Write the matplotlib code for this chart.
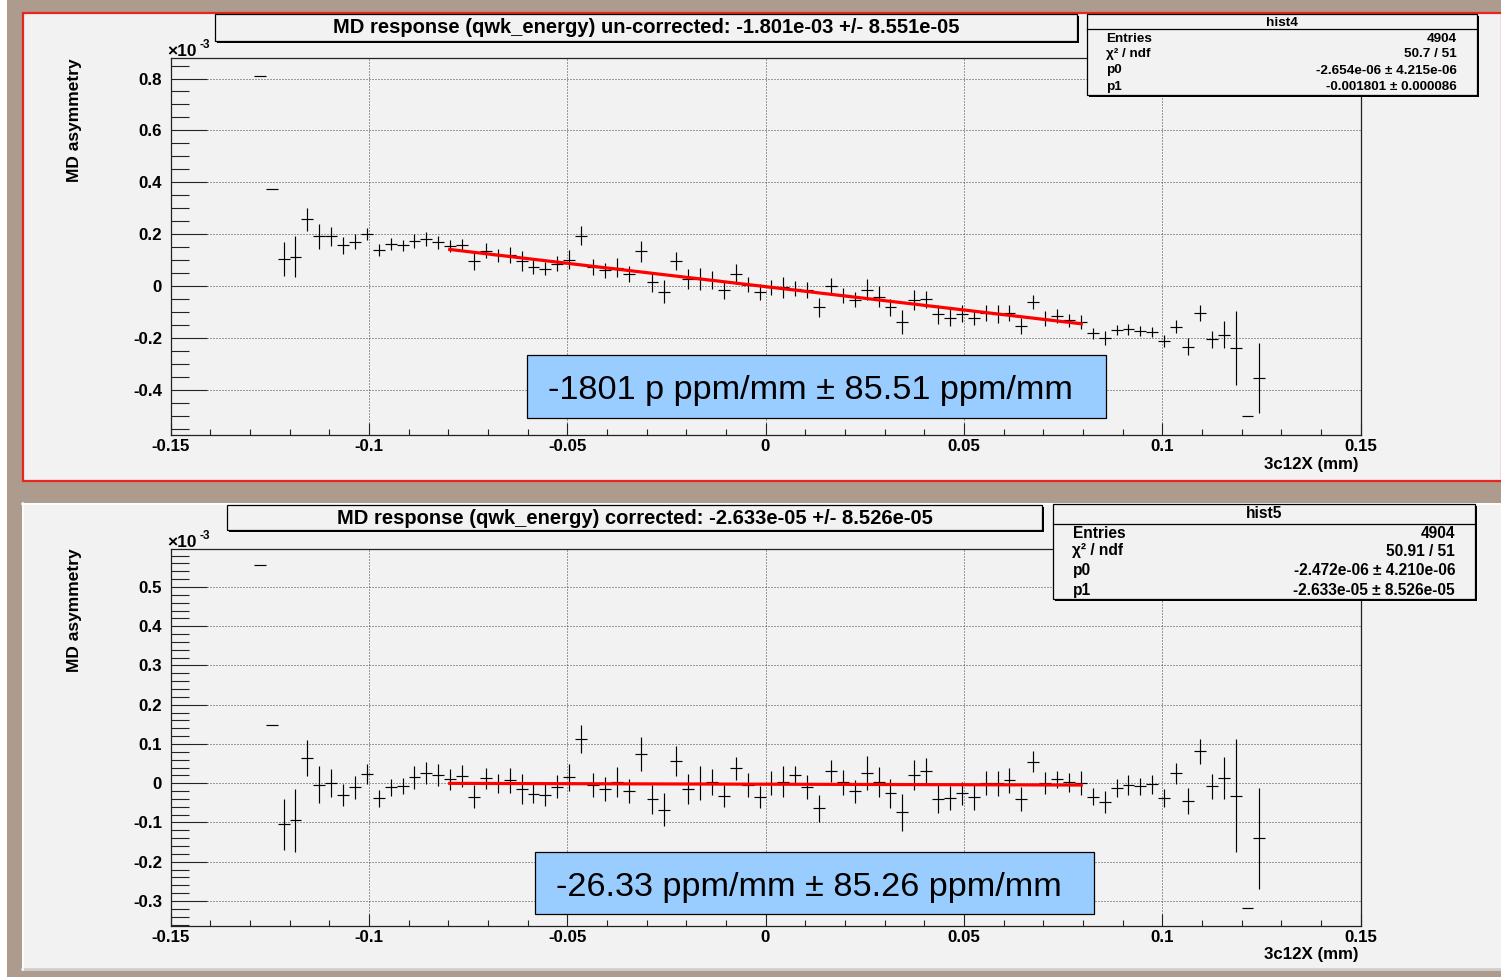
import numpy as np
import matplotlib
matplotlib.use("Agg")
import matplotlib.pyplot as plt
from matplotlib.patches import Rectangle
from matplotlib.ticker import FixedLocator, MultipleLocator, NullFormatter

plt.rcParams['font.family'] = ['Liberation Sans', 'DejaVu Sans']

W, H, DPI = 1501, 977, 100

# ---------------------------------------------------------------- data
# histogram binning of 3c12X (mm)
N_BINS = 100
X_LO, X_HI = -0.15, 0.15
FIRST_FILLED_BIN = 7

# MD asymmetry per bin, in units of 1e-3 (bins 7 .. 91)
uncorr_asym = [
    0.810, 0.372, 0.104, 0.113, 0.257, 0.191, 0.191, 0.157, 0.171, 0.200,
    0.139, 0.162, 0.157, 0.175, 0.181, 0.168, 0.154, 0.159, 0.098, 0.135,
    0.118, 0.118, 0.096, 0.073, 0.067, 0.086, 0.101, 0.194, 0.073, 0.060,
    0.071, 0.047, 0.133, 0.015, -0.023, 0.095, 0.026, 0.026, 0.022, -0.017,
    0.047, 0.005, -0.023, -0.006, -0.006, -0.010, -0.017, -0.083, -0.001, -0.036,
    -0.053, -0.015, -0.042, -0.082, -0.139, -0.054, -0.051, -0.110, -0.122, -0.107,
    -0.122, -0.105, -0.107, -0.104, -0.155, -0.063, -0.126, -0.117, -0.133, -0.141,
    -0.183, -0.202, -0.170, -0.168, -0.174, -0.177, -0.211, -0.158, -0.234, -0.104,
    -0.205, -0.189, -0.240, -0.501, -0.356,
]
uncorr_err = [
    0.0, 0.0, 0.065, 0.080, 0.045, 0.048, 0.036, 0.032, 0.029, 0.024,
    0.024, 0.023, 0.022, 0.027, 0.027, 0.025, 0.025, 0.022, 0.035, 0.029,
    0.024, 0.031, 0.038, 0.027, 0.024, 0.030, 0.037, 0.038, 0.031, 0.030,
    0.038, 0.031, 0.042, 0.037, 0.044, 0.035, 0.038, 0.042, 0.034, 0.035,
    0.038, 0.029, 0.032, 0.030, 0.040, 0.029, 0.031, 0.035, 0.032, 0.029,
    0.029, 0.040, 0.040, 0.033, 0.045, 0.039, 0.033, 0.035, 0.032, 0.032,
    0.030, 0.030, 0.035, 0.032, 0.030, 0.027, 0.030, 0.027, 0.024, 0.027,
    0.020, 0.027, 0.021, 0.021, 0.019, 0.020, 0.023, 0.025, 0.033, 0.032,
    0.033, 0.052, 0.144, 0.0, 0.136,
]
corr_asym = [
    0.556, 0.149, -0.105, -0.094, 0.064, -0.004, 0.000, -0.030, -0.010, 0.024,
    -0.038, -0.010, -0.007, 0.015, 0.027, 0.021, 0.010, 0.019, -0.034, 0.013,
    0.000, 0.007, -0.015, -0.027, -0.030, -0.009, 0.015, 0.113, -0.005, -0.015,
    0.003, -0.020, 0.074, -0.041, -0.068, 0.056, -0.015, 0.000, 0.002, -0.032,
    0.038, -0.004, -0.036, 0.000, 0.004, 0.020, -0.009, -0.064, 0.030, 0.002,
    -0.021, 0.026, 0.004, -0.026, -0.074, 0.021, 0.030, -0.040, -0.038, -0.026,
    -0.035, 0.000, 0.000, 0.007, -0.041, 0.055, 0.000, 0.010, 0.002, 0.000,
    -0.034, -0.047, -0.011, -0.004, -0.008, -0.003, -0.038, 0.025, -0.045, 0.081,
    -0.008, 0.013, -0.032, -0.318, -0.140,
]
corr_err = [
    0.0, 0.0, 0.066, 0.080, 0.045, 0.047, 0.036, 0.029, 0.029, 0.025,
    0.022, 0.022, 0.020, 0.030, 0.028, 0.029, 0.027, 0.028, 0.030, 0.027,
    0.024, 0.031, 0.038, 0.024, 0.027, 0.029, 0.035, 0.036, 0.031, 0.031,
    0.038, 0.030, 0.044, 0.037, 0.042, 0.038, 0.039, 0.043, 0.033, 0.028,
    0.030, 0.030, 0.028, 0.031, 0.039, 0.024, 0.030, 0.035, 0.028, 0.032,
    0.030, 0.044, 0.038, 0.038, 0.047, 0.039, 0.033, 0.036, 0.031, 0.030,
    0.032, 0.030, 0.032, 0.031, 0.031, 0.027, 0.028, 0.022, 0.025, 0.031,
    0.021, 0.028, 0.023, 0.025, 0.022, 0.024, 0.023, 0.026, 0.033, 0.031,
    0.032, 0.054, 0.144, 0.0, 0.129,
]

# linear fits  p0 + p1 * x
uncorr_p0, uncorr_p1 = -2.654e-06, -0.001801
corr_p0, corr_p1 = -2.472e-06, -2.633e-05
FIT_RANGE = [-0.08, 0.08]

x_tick_vals = [-0.15, -0.1, -0.05, 0.0, 0.05, 0.1, 0.15]
x_tick_labels = ['-0.15', '-0.1', '-0.05', '0', '0.05', '0.1', '0.15']
uncorr_ytick_vals = [-0.4, -0.2, 0.0, 0.2, 0.4, 0.6, 0.8]
uncorr_ytick_labels = ['-0.4', '-0.2', '0', '0.2', '0.4', '0.6', '0.8']
corr_ytick_vals = [-0.3, -0.2, -0.1, 0.0, 0.1, 0.2, 0.3, 0.4, 0.5]
corr_ytick_labels = ['-0.3', '-0.2', '-0.1', '0', '0.1', '0.2', '0.3', '0.4', '0.5']

uncorr_title = 'MD response (qwk_energy) un-corrected: -1.801e-03 +/- 8.551e-05'
corr_title = 'MD response (qwk_energy) corrected: -2.633e-05 +/- 8.526e-05'
uncorr_note = '-1801 p ppm/mm \u00b1 85.51 ppm/mm'
corr_note = '-26.33 ppm/mm \u00b1 85.26 ppm/mm'

stat_labels = ['Entries', '\u03c7\u00b2 / ndf', 'p0', 'p1']
uncorr_stat_name = 'hist4'
uncorr_stat_vals = ['4904', '50.7 / 51', '-2.654e-06 \u00b1 4.215e-06',
                    '-0.001801 \u00b1 0.000086']
corr_stat_name = 'hist5'
corr_stat_vals = ['4904', '50.91 / 51', '-2.472e-06 \u00b1 4.210e-06',
                  '-2.633e-05 \u00b1 8.526e-05']

y_title = 'MD asymmetry'
x_title = '3c12X (mm)'

# ---------------------------------------------------------------- style
CANVAS = '#ad9b8d'
PAD = '#f2f2f2'
NOTE_BLUE = '#99ccff'
FONT_BOLD = dict(fontweight='bold')

fig = plt.figure(figsize=(W / DPI, H / DPI), dpi=DPI)
fig.patch.set_facecolor(CANVAS)

# background layer in pixel coordinates
bg = fig.add_axes([0, 0, 1, 1], zorder=0)
bg.set_xlim(0, W)
bg.set_ylim(H, 0)
bg.axis('off')
# foreground layer in pixel coordinates
fg = fig.add_axes([0, 0, 1, 1], zorder=5)
fg.set_xlim(0, W)
fg.set_ylim(H, 0)
fg.axis('off')
fg.patch.set_alpha(0)

bg.add_patch(Rectangle((0, 0), 7, H, facecolor='white', edgecolor='none'))
# upper pad (highlighted in red) and lower pad
bg.add_patch(Rectangle((22.5, 12.5), W - 22, 468, facecolor=PAD,
                       edgecolor='#e8261e', lw=1.6))
bg.add_patch(Rectangle((22, 503), W - 22, 467, facecolor=PAD,
                       edgecolor='none'))
bg.plot([22, W], [503.5, 503.5], color='white', lw=1.2)
bg.plot([22, W], [969, 969], color='#d0d0d0', lw=2.0)
bg.plot([22.5, 22.5], [503, 970], color='white', lw=1.2)


def axes_rect(left, top, right, bottom):
    return [left / W, 1 - bottom / H, (right - left) / W, (bottom - top) / H]


def draw_hist(rect, vals, errs, p0, p1, ylim, yticks, ylabels, yminor):
    ax = fig.add_axes(axes_rect(*rect), zorder=2)
    ax.patch.set_alpha(0)
    edges = np.linspace(X_LO, X_HI, N_BINS + 1)
    centres = 0.5 * (edges[:-1] + edges[1:])
    half = 0.5 * (X_HI - X_LO) / N_BINS
    xs = centres[FIRST_FILLED_BIN:FIRST_FILLED_BIN + len(vals)]
    ax.errorbar(xs, vals, yerr=errs, xerr=half, fmt='none', ecolor='black',
                elinewidth=0.85, capsize=0, zorder=3)
    xf = np.array(FIT_RANGE)
    ax.plot(xf, (p0 + p1 * xf) * 1e3, color='#ff0000', lw=2.3,
            solid_capstyle='butt', zorder=4)
    ax.set_xlim(X_LO, X_HI)
    ax.set_ylim(*ylim)
    ax.xaxis.set_major_locator(FixedLocator(x_tick_vals))
    ax.set_xticklabels(x_tick_labels, fontsize=12.2, **FONT_BOLD)
    ax.xaxis.set_minor_locator(MultipleLocator(0.01))
    ax.yaxis.set_major_locator(FixedLocator(yticks))
    ax.set_yticklabels(ylabels, fontsize=12.2, **FONT_BOLD)
    ax.yaxis.set_minor_locator(MultipleLocator(yminor))
    ax.xaxis.set_minor_formatter(NullFormatter())
    ax.yaxis.set_minor_formatter(NullFormatter())
    ax.tick_params(axis='x', which='major', direction='in', length=8.6,
                   width=0.8, pad=3, colors='#222222', labelcolor='black')
    ax.tick_params(axis='x', which='minor', direction='in', length=4.3,
                   width=0.8, colors='#222222')
    ax.tick_params(axis='y', which='major', direction='in', length=26,
                   width=0.8, pad=6, colors='#222222', labelcolor='black')
    ax.tick_params(axis='y', which='minor', direction='in', length=13,
                   width=0.8, colors='#222222')
    ax.grid(True, which='major', linestyle=(0, (1, 2)), color='#444444',
            lw=0.72, zorder=1)
    for s in ax.spines.values():
        s.set_color('#222222')
        s.set_linewidth(0.9)
    return ax


draw_hist((170.5, 58.3, 1360.5, 434.5), uncorr_asym, uncorr_err,
          uncorr_p0, uncorr_p1, (-0.573, 0.878),
          uncorr_ytick_vals, uncorr_ytick_labels, 0.05)
draw_hist((170.5, 549.3, 1360.5, 925.7), corr_asym, corr_err,
          corr_p0, corr_p1, (-0.363, 0.596),
          corr_ytick_vals, corr_ytick_labels, 0.02)


def shadow_box(x0, y0, x1, y1, face=PAD):
    fg.add_patch(Rectangle((x0 + 2, y0 + 2), x1 - x0, y1 - y0,
                           facecolor='black', edgecolor='none'))
    fg.add_patch(Rectangle((x0, y0), x1 - x0, y1 - y0, facecolor=face,
                           edgecolor='black', lw=0.9))


# titles
shadow_box(214.5, 14, 1077, 40.5)
fg.text(646, 27.5, uncorr_title, ha='center', va='center', fontsize=14.5,
        **FONT_BOLD)
shadow_box(227, 505, 1042, 530)
fg.text(635, 518, corr_title, ha='center', va='center', fontsize=14.5,
        **FONT_BOLD)


def stat_box(x0, y0, x1, y1, head_y, line_y, rows_y, name, vals, fs,
             lab_x, val_x):
    shadow_box(x0, y0, x1, y1)
    fg.plot([x0, x1], [line_y, line_y], color='black', lw=0.9)
    fg.text((x0 + x1) / 2, head_y, name, ha='center', va='center',
            fontsize=fs, **FONT_BOLD)
    for lab, val, yy in zip(stat_labels, vals, rows_y):
        fg.text(lab_x, yy, lab, ha='left', va='center', fontsize=fs,
                **FONT_BOLD)
        fg.text(val_x, yy, val, ha='right', va='center', fontsize=fs,
                **FONT_BOLD)


stat_box(1087, 14, 1477, 95, 22.5, 28.5, [39, 54, 70.5, 87],
         uncorr_stat_name, uncorr_stat_vals, 9.7, 1106, 1457)
stat_box(1053, 504, 1475, 599, 514, 523.5, [533.5, 551, 570.5, 590.5],
         corr_stat_name, corr_stat_vals, 11.2, 1072.5, 1455)

# axis titles and exponent labels
for yc, ex_y in ((120, 56.5), (610, 547)):
    fg.text(74, yc, y_title, rotation=90, ha='center', va='center',
            fontsize=12.5, **FONT_BOLD)
    fg.text(167, ex_y, '\u00d710', ha='left', va='baseline', fontsize=12.5,
            **FONT_BOLD)
    fg.text(200, ex_y - 8, '-3', ha='left', va='baseline', fontsize=8.5,
            **FONT_BOLD)
for yc in (465, 955):
    fg.text(1359, yc, x_title, ha='right', va='center', fontsize=12.2,
            **FONT_BOLD)

# value notes
for (x0, y0, x1, y1), note in (((527, 355, 1106, 418), uncorr_note),
                               ((535, 852, 1094, 914), corr_note)):
    fg.add_patch(Rectangle((x0, y0), x1 - x0, y1 - y0, facecolor=NOTE_BLUE,
                           edgecolor='black', lw=0.9))
    fg.text((x0 + x1) / 2 - 6, (y0 + y1) / 2 + 1, note, ha='center',
            va='center_baseline', fontsize=24.7)

fig.savefig('out.png', dpi=DPI, facecolor=fig.get_facecolor())
